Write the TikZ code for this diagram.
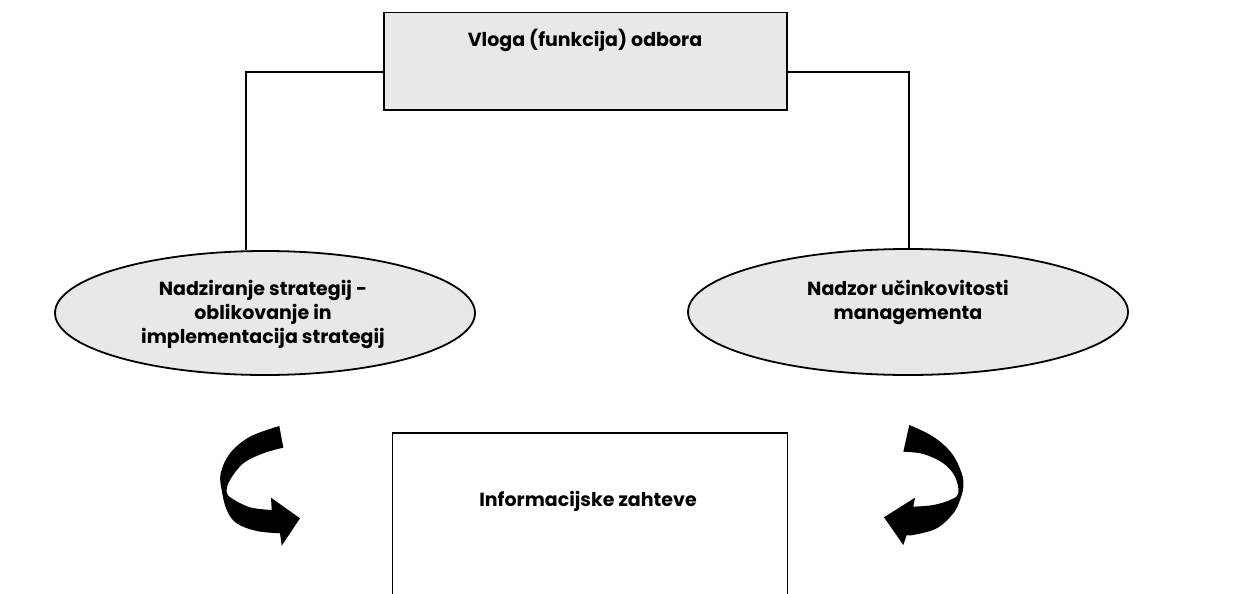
\documentclass[tikz,border=0pt]{standalone}
\usepackage{fontspec}
\setmainfont{Poppins}
\usetikzlibrary{shapes.geometric}
\definecolor{boxgray}{HTML}{E8E8E8}
\tikzset{
  every node/.style={font=\fontsize{19}{24}\selectfont\bfseries, align=center},
  frame/.style={draw=black, line width=1.8pt},
  link/.style={draw=black, line width=1.8pt},
  oval/.style={frame, ellipse, fill=boxgray, inner sep=0pt},
  turnarrow/.style={fill=black}
}
\begin{document}
\begin{tikzpicture}[x=1pt, y=-1pt]
\useasboundingbox (0,0) rectangle (1247,594);
\clip (0,0) rectangle (1247,594);

% role of the board
\node[frame, fill=boxgray, minimum width=403pt, minimum height=97pt, anchor=north west, inner sep=0pt]
  (role) at (383.3,11.7) {};
\node (roletxt) at (585,40) {Vloga (funkcija) odbora};

% two supervisory functions
\node[oval, minimum width=420pt, minimum height=124pt] (strat) at (265,313) {};
\node (strattxt) at (263,314) {Nadziranje strategij -\\oblikovanje in\\implementacija strategij};
\node[oval, minimum width=440pt, minimum height=126pt] (mgmt) at (908,312) {};
\node (mgmttxt) at (908,302) {Nadzor učinkovitosti\\managementa};

% information requirements box, running past the lower edge
\node[frame, minimum width=395pt, minimum height=200pt, anchor=north west, inner sep=0pt]
  (info) at (391.5,431.7) {};
\node (infotxt) at (588,501) {Informacijske zahteve};

% connectors from the board to the functions
\draw[link] (role.west |- 0,71.7) -| ([xshift=-19pt]strat.north);
\draw[link] (role.east |- 0,71.7) -| ([xshift=1pt]mgmt.north);

% curved arrow on the left
\fill[turnarrow] (279.3,426)
  -- plot[smooth, tension=0.6] coordinates {(279.3,426) (250,436.7) (230,453.3) (220.7,473.3) (221.7,490) (226.7,510) (236.7,523.3) (256.7,531) (280,533.3)}
  -- (281.7,545.7) -- (300,518.3) -- (271,497.7) -- (271.7,510)
  -- plot[smooth, tension=0.6] coordinates {(271.7,510) (250,507.3) (231.7,498.3) (226.7,491.7) (230,480) (243.3,463.3) (263.3,453.3) (283.3,447.7)}
  -- cycle;

% curved arrow on the right
\fill[turnarrow] (909.3,425)
  -- plot[smooth, tension=0.6] coordinates {(909.3,425) (933.3,436.7) (951.7,453.3) (961.7,473.3) (963.3,486.7) (960,500) (953.3,513.3) (936.7,528.3) (913.3,535) (906.7,535)}
  -- (903.3,545) -- (884,517.3) -- (915,497.7) -- (913.3,506.7)
  -- plot[smooth, tension=0.6] coordinates {(913.3,506.7) (933.3,505) (950,500) (958.3,493.3) (955,476.7) (943.3,463.3) (923.3,454) (903.3,451.7)}
  -- cycle;
\end{tikzpicture}
\end{document}
